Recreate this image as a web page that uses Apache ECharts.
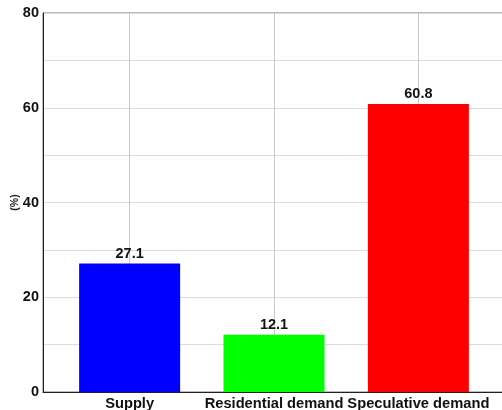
<!DOCTYPE html>
<html>
<head>
<meta charset="utf-8">
<script src="https://cdn.jsdelivr.net/npm/echarts@6/dist/echarts.min.js"></script>
<style>
  html, body { margin: 0; padding: 0; background: #fff; }
  #chart { width: 502px; height: 410px; }
</style>
</head>
<body>
<div id="chart"></div>
<script>
// Shares of the price change attributed to each factor (%)
const categories = ['Supply', 'Residential demand', 'Speculative demand'];
const values = [27.1, 12.1, 60.8];
const barColors = ['#0000ff', '#00ff00', '#ff0000'];
const yTicks = [0, 20, 40, 60, 80];

// bars sit at x = 1, 2, 3 on a numeric axis so the frame can start left of the first slot
const positions = categories.map((_, i) => i + 1);

const font = 'Liberation Sans, Arial, sans-serif';

const chart = echarts.init(document.getElementById('chart'), null, { renderer: 'canvas' });
chart.setOption({
  animation: false,
  grid: {
    left: 43, top: 13, width: 462, height: 379,
    outerBoundsMode: 'none',
    containLabel: false,
    show: true, borderColor: '#777', borderWidth: 1
  },
  xAxis: {
    type: 'value',
    min: 0.4, max: 3.6,
    axisLine: { show: true, onZero: false, lineStyle: { color: '#222', width: 1 } },
    axisTick: { show: false },
    splitLine: { show: false },
    axisLabel: {
      customValues: positions,
      formatter: v => categories[Math.round(v) - 1] || '',
      color: '#111', fontFamily: font, fontWeight: 'bold', fontSize: 14.7, margin: 4
    }
  },
  yAxis: {
    type: 'value',
    min: 0, max: 80, interval: 10,
    name: '(%)',
    nameLocation: 'middle',
    nameGap: 22,
    nameMoveOverlap: false,
    nameRotate: 90,
    nameTextStyle: { color: '#222', fontFamily: font, fontWeight: 'bold', fontSize: 10.5 },
    axisLine: { show: true, lineStyle: { color: '#222', width: 1 } },
    axisTick: { show: false },
    axisLabel: {
      formatter: v => (yTicks.indexOf(v) >= 0 ? String(v) : ''),
      color: '#111', fontFamily: font, fontWeight: 'bold', fontSize: 14.5, margin: 4
    },
    splitLine: { show: true, lineStyle: { color: '#dcdcdc', width: 1 } }
  },
  series: [{
    type: 'bar',
    barWidth: 101,
    data: values.map((v, i) => ({
      value: [positions[i], v],
      itemStyle: { color: barColors[i] }
    })),
    label: {
      show: true, position: 'top', distance: 2,
      formatter: p => p.value[1].toFixed(1),
      color: '#111', fontFamily: font, fontWeight: 'bold', fontSize: 14.5
    },
    markLine: {
      silent: true,
      symbol: 'none',
      label: { show: false },
      lineStyle: { color: '#c8c8c8', type: 'solid', width: 1 },
      z: 1,
      data: positions.map(p => ({ xAxis: p }))
    },
    z: 3
  }]
});
</script>
</body>
</html>
